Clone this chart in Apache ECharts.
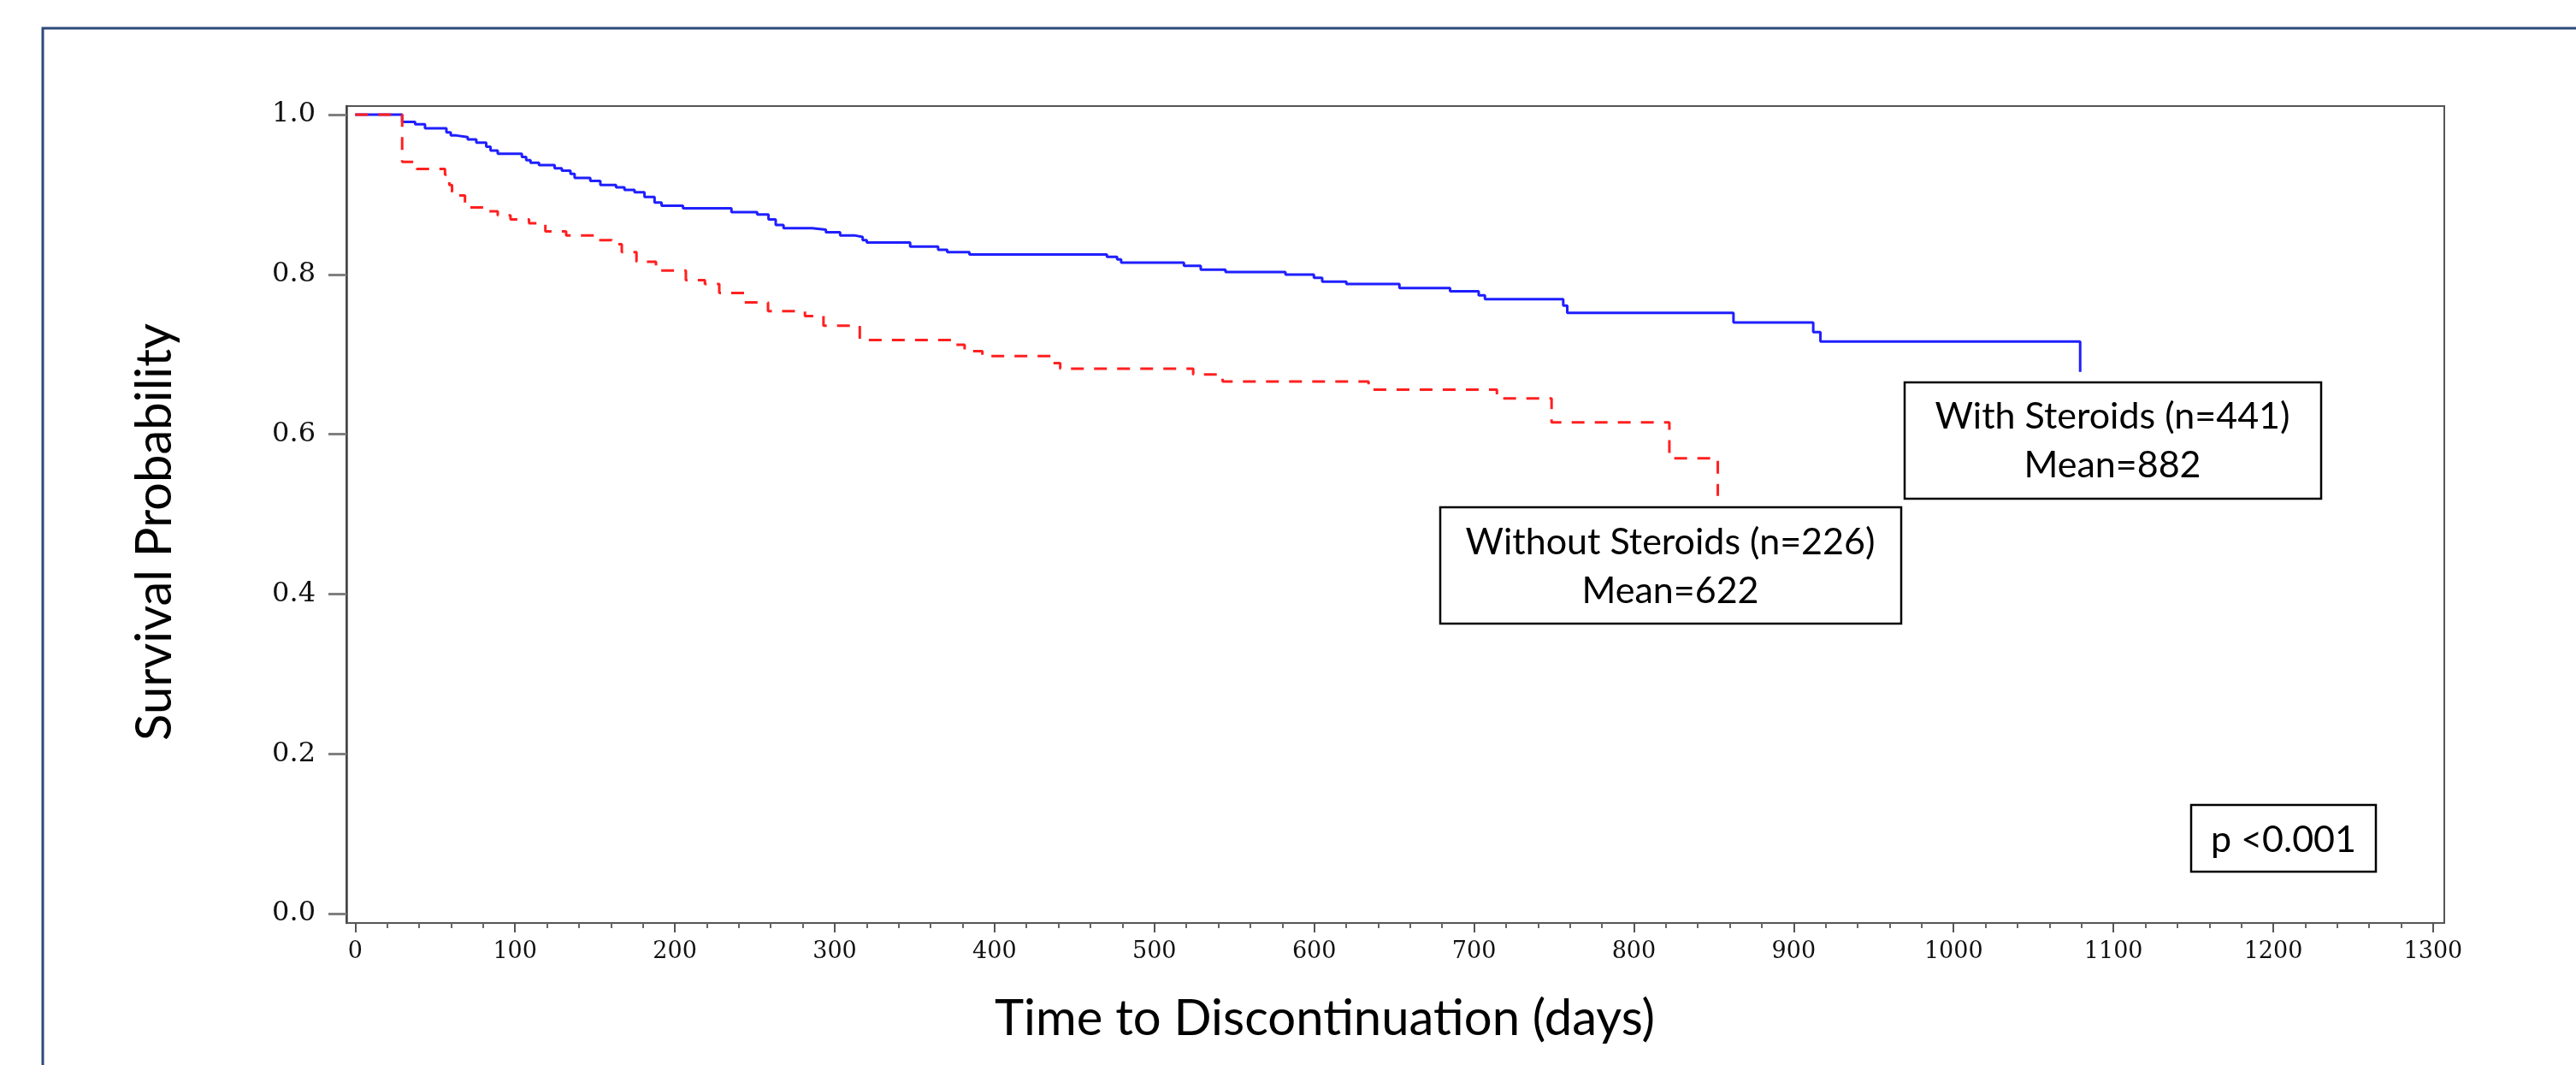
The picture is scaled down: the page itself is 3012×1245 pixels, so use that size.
<!DOCTYPE html>
<html>
<head>
<meta charset="utf-8">
<script src="https://cdn.jsdelivr.net/npm/echarts@6/dist/echarts.min.js"></script>
<style>
  html, body { margin: 0; padding: 0; background: #fff; }
  #main { width: 3012px; height: 1245px; }
</style>
</head>
<body>
<div id="main"></div>
<script>
// Kaplan-Meier steps: days and survival probability after each step
var withDays = [0, 29.4, 37.5, 43.7, 57.1, 59.8, 63.3, 70.4, 75.8, 82.0, 84.7, 89.2, 104.3, 107.0, 109.7,
  115.0, 124.8, 129.3, 134.7, 137.3, 147.1, 153.4, 163.2, 168.5, 174.8, 181.0, 187.3, 191.7, 205.1, 235.4,
  251.5, 258.6, 263.1, 268.0, 285.9, 294.5, 303.4, 312.3, 317.5, 320.1, 347.2, 364.7, 370.4, 384.3, 470.3,
  476.7, 479.2, 518.5, 529.0, 544.5, 582.0, 599.8, 605.0, 620.1, 653.3, 685.0, 702.9, 706.8, 755.8, 758.3,
  862.3, 912.2, 916.7, 1079.2];
var withSurv = [1.0, 0.991, 0.988, 0.983, 0.978, 0.974, 0.972, 0.969, 0.965, 0.960, 0.955, 0.951, 0.947, 0.943, 0.940,
  0.937, 0.933, 0.930, 0.926, 0.921, 0.917, 0.912, 0.909, 0.906, 0.903, 0.897, 0.890, 0.886, 0.883, 0.878,
  0.875, 0.869, 0.862, 0.858, 0.856, 0.853, 0.849, 0.847, 0.843, 0.840, 0.835, 0.831, 0.828, 0.825, 0.822,
  0.819, 0.815, 0.811, 0.806, 0.803, 0.800, 0.796, 0.791, 0.788, 0.783, 0.779, 0.774, 0.769, 0.761, 0.752,
  0.740, 0.728, 0.716, 0.678];

var withoutDays = [0, 29.4, 38.4, 56.2, 58.9, 60.6, 68.7, 80.8, 89.2, 97.2, 108.8, 119.0, 132.0, 152.5, 160.5,
  166.8, 176.0, 188.2, 206.9, 218.8, 227.8, 243.4, 258.3, 281.4, 293.0, 315.7, 374.9, 381.3, 392.4, 436.6,
  441.1, 524.3, 542.7, 634.0, 714.3, 748.5, 822.2, 852.5];
var withoutSurv = [1.0, 0.941, 0.932, 0.925, 0.912, 0.899, 0.884, 0.879, 0.874, 0.869, 0.864, 0.854, 0.849, 0.843, 0.838,
  0.828, 0.816, 0.805, 0.793, 0.788, 0.777, 0.765, 0.754, 0.748, 0.736, 0.718, 0.712, 0.704, 0.698, 0.689,
  0.682, 0.675, 0.666, 0.656, 0.645, 0.615, 0.570, 0.523];

var xTicks = [0, 100, 200, 300, 400, 500, 600, 700, 800, 900, 1000, 1100, 1200, 1300];
var yTicks = [0, 0.2, 0.4, 0.6, 0.8, 1.0];

var xMinorTicks = [];
for (var t = 0; t <= 1300; t += 20) {
  if (t % 100 !== 0) xMinorTicks.push(t);
}

function pairs(xs, ys) {
  return xs.map(function (x, i) { return [x, ys[i]]; });
}

var serif = 'DejaVu Serif';
var sans = 'Lato';

var myChart = echarts.init(document.getElementById('main'));
myChart.setOption({
  backgroundColor: '#fff',
  animation: false,
  grid: {
    left: 405,
    right: 154,
    top: 124,
    bottom: 166,
    show: true,
    borderColor: '#555',
    borderWidth: 2
  },
  xAxis: [{
    type: 'value',
    min: -5.5,
    max: 1307,
    axisLine: { show: true, onZero: false, lineStyle: { color: '#555', width: 2 } },
    axisTick: { show: true, customValues: xTicks, length: 11, lineStyle: { color: '#555', width: 2 } },
    axisLabel: {
      customValues: xTicks,
      margin: 20,
      color: '#111',
      fontFamily: serif,
      fontSize: 27,
      formatter: function (v) { return String(v); }
    },
    splitLine: { show: false }
  }, {
    type: 'value',
    min: -5.5,
    max: 1307,
    position: 'bottom',
    axisLine: { show: false, onZero: false },
    axisTick: { show: true, customValues: xMinorTicks, length: 6, lineStyle: { color: '#666', width: 2 } },
    axisLabel: { show: false },
    splitLine: { show: false }
  }],
  yAxis: [{
    type: 'value',
    min: -0.0116,
    max: 1.0108,
    axisLine: { show: true, onZero: false, lineStyle: { color: '#444', width: 2.5 } },
    axisTick: { show: true, customValues: yTicks, length: 21, lineStyle: { color: '#808080', width: 3 } },
    axisLabel: {
      customValues: yTicks,
      margin: 36,
      color: '#111',
      fontFamily: serif,
      fontSize: 32,
      formatter: function (v) { return v.toFixed(1); }
    },
    splitLine: { show: false }
  }],
  series: [{
    name: 'With Steroids',
    type: 'line',
    step: 'end',
    showSymbol: false,
    data: pairs(withDays, withSurv),
    lineStyle: { color: '#1f1fff', width: 3 },
    z: 2
  }, {
    name: 'Without Steroids',
    type: 'line',
    step: 'end',
    showSymbol: false,
    data: pairs(withoutDays, withoutSurv),
    lineStyle: { color: '#ff2020', width: 3, type: [15, 12] },
    z: 3
  }],
  graphic: [
    // outer frame
    { type: 'rect', shape: { x: 50, y: 33, width: 3000, height: 1300 },
      style: { fill: 'none', stroke: '#2e4a7a', lineWidth: 3 }, z: 1 },
    // axis titles
    { type: 'text', x: 181, y: 622, rotation: Math.PI / 2,
      style: { text: 'Survival Probability', x: 0, y: 0, textAlign: 'center', textVerticalAlign: 'middle',
        fontFamily: sans, fontSize: 58, fill: '#000' } },
    { type: 'text', x: 1549, y: 1191,
      style: { text: 'Time to Discontinuation (days)', textAlign: 'center', textVerticalAlign: 'middle',
        fontFamily: sans, fontSize: 58, fill: '#000' } },
    // annotations
    { type: 'rect', shape: { x: 2227, y: 447, width: 487, height: 136 },
      style: { fill: '#fff', stroke: '#000', lineWidth: 2.5 }, z: 10 },
    { type: 'text', x: 2470, y: 487, z: 11,
      style: { text: 'With Steroids (n=441)', textAlign: 'center', textVerticalAlign: 'middle',
        fontFamily: sans, fontSize: 43, fill: '#000' } },
    { type: 'text', x: 2470, y: 544, z: 11,
      style: { text: 'Mean=882', textAlign: 'center', textVerticalAlign: 'middle',
        fontFamily: sans, fontSize: 43, fill: '#000' } },
    { type: 'rect', shape: { x: 1684, y: 593, width: 539, height: 136 },
      style: { fill: '#fff', stroke: '#000', lineWidth: 2.5 }, z: 10 },
    { type: 'text', x: 1953, y: 634, z: 11,
      style: { text: 'Without Steroids (n=226)', textAlign: 'center', textVerticalAlign: 'middle',
        fontFamily: sans, fontSize: 43, fill: '#000' } },
    { type: 'text', x: 1953, y: 691, z: 11,
      style: { text: 'Mean=622', textAlign: 'center', textVerticalAlign: 'middle',
        fontFamily: sans, fontSize: 43, fill: '#000' } },
    { type: 'rect', shape: { x: 2562, y: 941, width: 216, height: 78 },
      style: { fill: '#fff', stroke: '#000', lineWidth: 2.5 }, z: 10 },
    { type: 'text', x: 2670, y: 982, z: 11,
      style: { text: 'p <0.001', textAlign: 'center', textVerticalAlign: 'middle',
        fontFamily: sans, fontSize: 43, fill: '#000' } }
  ]
});
</script>
</body>
</html>
